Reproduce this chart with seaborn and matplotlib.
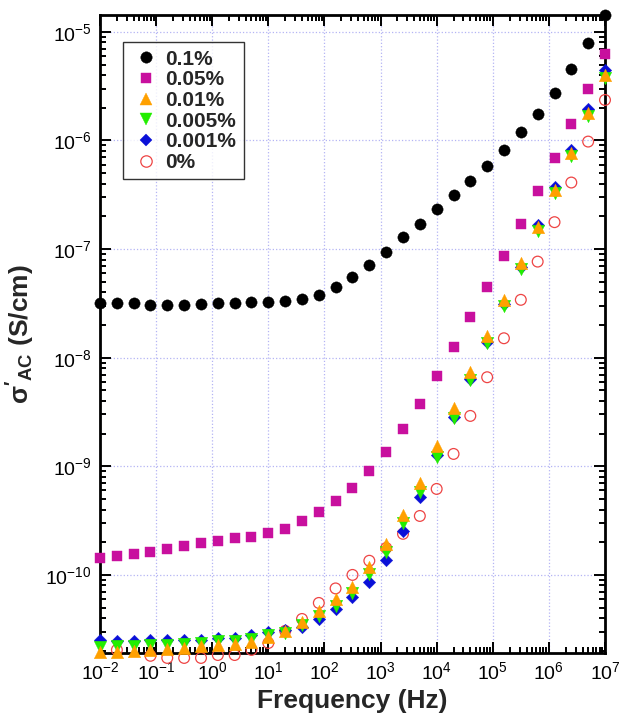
import numpy as np
import pandas as pd
import matplotlib
matplotlib.use("Agg")
import matplotlib.pyplot as plt
import seaborn as sns
from matplotlib.ticker import FixedLocator, NullFormatter
from matplotlib.lines import Line2D

# ---------------- data ----------------
freq = [0.01, 0.02, 0.0398, 0.0794, 0.158, 0.316, 0.631, 1.26, 2.51, 5.01,
        10, 20, 39.8, 79.4, 158, 316, 631, 1259, 2512, 5012,
        1e4, 2e4, 3.98e4, 7.94e4, 1.58e5, 3.16e5, 6.31e5, 1.26e6, 2.51e6, 5.01e6, 1e7]

s_0p1 = [3.22e-8, 3.22e-8, 3.18e-8, 3.08e-8, 3.06e-8, 3.06e-8, 3.13e-8, 3.18e-8, 3.22e-8, 3.24e-8,
         3.26e-8, 3.33e-8, 3.48e-8, 3.79e-8, 4.46e-8, 5.55e-8, 7.20e-8, 9.48e-8, 1.28e-7, 1.72e-7,
         2.33e-7, 3.18e-7, 4.27e-7, 5.87e-7, 8.19e-7, 1.19e-6, 1.77e-6, 2.73e-6, 4.53e-6, 7.87e-6, 1.42e-5]

s_0p05 = [1.42e-10, 1.50e-10, 1.55e-10, 1.64e-10, 1.73e-10, 1.84e-10, 1.97e-10, 2.07e-10, 2.18e-10, 2.25e-10,
          2.42e-10, 2.65e-10, 3.14e-10, 3.83e-10, 4.80e-10, 6.37e-10, 9.07e-10, 1.35e-9, 2.20e-9, 3.78e-9,
          6.76e-9, 1.25e-8, 2.36e-8, 4.46e-8, 8.66e-8, 1.70e-7, 3.41e-7, 6.87e-7, 1.42e-6, 2.97e-6, 6.27e-6]

s_0p01 = [1.95e-11, 1.95e-11, 2.00e-11, 2.04e-11, 2.08e-11, 2.13e-11, 2.22e-11, 2.27e-11, 2.31e-11, 2.42e-11,
          2.69e-11, 3.05e-11, 3.69e-11, 4.66e-11, 6.01e-11, 7.75e-11, 1.18e-10, 1.93e-10, 3.57e-10, 7.03e-10,
          1.54e-9, 3.45e-9, 7.40e-9, 1.59e-8, 3.41e-8, 7.46e-8, 1.60e-7, 3.51e-7, 7.69e-7, 1.80e-6, 4.02e-6]

s_0p005 = [2.17e-11, 2.22e-11, 2.22e-11, 2.27e-11, 2.27e-11, 2.31e-11, 2.36e-11, 2.47e-11, 2.47e-11, 2.57e-11,
           2.80e-11, 2.92e-11, 3.46e-11, 4.19e-11, 5.18e-11, 6.83e-11, 1.02e-10, 1.63e-10, 3.01e-10, 5.81e-10,
           1.22e-9, 2.79e-9, 6.25e-9, 1.37e-8, 3.00e-8, 6.57e-8, 1.47e-7, 3.29e-7, 7.21e-7, 1.69e-6, 3.77e-6]

s_0p001 = [2.50e-11, 2.48e-11, 2.48e-11, 2.50e-11, 2.52e-11, 2.50e-11, 2.52e-11, 2.63e-11, 2.63e-11, 2.80e-11,
           2.99e-11, 3.12e-11, 3.32e-11, 3.93e-11, 4.86e-11, 6.27e-11, 8.62e-11, 1.37e-10, 2.54e-10, 5.23e-10,
           1.27e-9, 2.85e-9, 6.38e-9, 1.40e-8, 3.13e-8, 6.86e-8, 1.67e-7, 3.74e-7, 8.19e-7, 1.95e-6, 4.47e-6]

s_0 = [np.nan, 2.04e-11, np.nan, 1.80e-11, 1.72e-11, 1.72e-11, 1.72e-11, 1.83e-11, 1.83e-11, 2.04e-11,
       2.36e-11, 3.05e-11, 3.93e-11, 5.52e-11, 7.51e-11, 1.00e-10, 1.35e-10, 1.77e-10, 2.39e-10, 3.49e-10,
       6.19e-10, 1.30e-9, 2.91e-9, 6.61e-9, 1.51e-8, 3.41e-8, 7.67e-8, 1.77e-7, 4.10e-7, 9.77e-7, 2.36e-6]

labels = ["0.1%", "0.05%", "0.01%", "0.005%", "0.001%", "0%"]
series = [s_0p1, s_0p05, s_0p01, s_0p005, s_0p001, s_0]

x_decades = [1e-2, 1e-1, 1e0, 1e1, 1e2, 1e3, 1e4, 1e5, 1e6, 1e7]
y_decades = [1e-10, 1e-9, 1e-8, 1e-7, 1e-6, 1e-5]

df = pd.concat([pd.DataFrame({"freq": freq, "sigma": v, "conc": lab})
                for lab, v in zip(labels, series)], ignore_index=True)

# ---------------- style ----------------
sns.set_style("ticks")
plt.rcParams["font.family"] = ["Liberation Sans", "DejaVu Sans"]
plt.rcParams["mathtext.fontset"] = "custom"
plt.rcParams["mathtext.rm"] = "Liberation Sans"
plt.rcParams["mathtext.it"] = "Liberation Sans:italic"
plt.rcParams["mathtext.bf"] = "Liberation Sans:bold"

styles = {
    "0.1%":   dict(marker="o", s=66, color="#000000", edgecolor="#000000", linewidth=0.3),
    "0.05%":  dict(marker="s", s=54, color="#c8109e", edgecolor="#c8109e", linewidth=0.3),
    "0.01%":  dict(marker="^", s=80, color="#ffa000", edgecolor="#ffa000", linewidth=0.3),
    "0.005%": dict(marker="v", s=80, color="#22ee00", edgecolor="#22ee00", linewidth=0.3),
    "0.001%": dict(marker="D", s=40, color="#0a10d8", edgecolor="#0a10d8", linewidth=0.3),
    "0%":     dict(marker="o", s=60, color="#ee4444", facecolor="none", edgecolor="#ee4444", linewidth=0.9),
}
draw_order = ["0%", "0.001%", "0.005%", "0.01%", "0.05%", "0.1%"]

fig = plt.figure(figsize=(6.19, 7.2), dpi=100)
ax = fig.add_axes([100 / 619, 1 - 653 / 720, 505 / 619, 638 / 720])
ax.set_xscale("log")
ax.set_yscale("log")

for z, lab in enumerate(draw_order):
    sub = df[df["conc"] == lab].dropna()
    sns.scatterplot(data=sub, x="freq", y="sigma", ax=ax, legend=False,
                    clip_on=False, zorder=3 + z, **styles[lab])

ax.set_xlim(1e-2, 1e7)
ax.set_ylim(1.91e-11, 1.43e-5)

x_minor = [d * m for d in x_decades[:-1] for m in range(2, 10)]
y_minor = [d * m for d in [1e-11] + y_decades for m in range(2, 10)]
y_minor = [v for v in y_minor if 1.91e-11 <= v <= 1.43e-5]
ax.xaxis.set_major_locator(FixedLocator(x_decades))
ax.yaxis.set_major_locator(FixedLocator(y_decades))
ax.xaxis.set_minor_locator(FixedLocator(x_minor))
ax.yaxis.set_minor_locator(FixedLocator(y_minor))
ax.xaxis.set_minor_formatter(NullFormatter())
ax.yaxis.set_minor_formatter(NullFormatter())

ax.grid(True, which="major", color="#b4b4f4", linestyle=":", linewidth=0.9)
ax.set_axisbelow(True)

ax.tick_params(which="both", direction="in", top=True, right=True, width=1.4, colors="black")
ax.tick_params(which="major", length=8, labelsize=14, pad=6)
ax.tick_params(which="minor", length=4.5)
for sp in ax.spines.values():
    sp.set_linewidth(2)
    sp.set_color("black")

ax.set_xlabel("Frequency (Hz)", fontsize=19, fontweight="bold", labelpad=4)
ax.set_ylabel(r"$\mathbf{\sigma'_{AC}}$ (S/cm)", fontsize=19, fontweight="bold", labelpad=6)

handles = []
for lab in labels:
    st = styles[lab]
    fc = "none" if st.get("facecolor") == "none" else st["color"]
    ms = {"o": 8.2, "s": 7.4, "^": 8.8, "v": 8.8, "D": 6.2}[st["marker"]]
    handles.append(Line2D([], [], linestyle="none", marker=st["marker"], markersize=ms,
                          markerfacecolor=fc, markeredgecolor=st["edgecolor"],
                          markeredgewidth=st["linewidth"] if fc == "none" else 0.3))
leg = ax.legend(handles, labels, loc="upper left", bbox_to_anchor=(0.045, 0.957),
                borderaxespad=0, frameon=True, fancybox=False, handlelength=1.5,
                handletextpad=0.2, labelspacing=0.08, borderpad=0.35,
                prop={"weight": "bold", "size": 15})
leg.get_frame().set_edgecolor("black")
leg.get_frame().set_linewidth(1.0)
leg.set_zorder(20)

fig.savefig("out.png", dpi=100)
